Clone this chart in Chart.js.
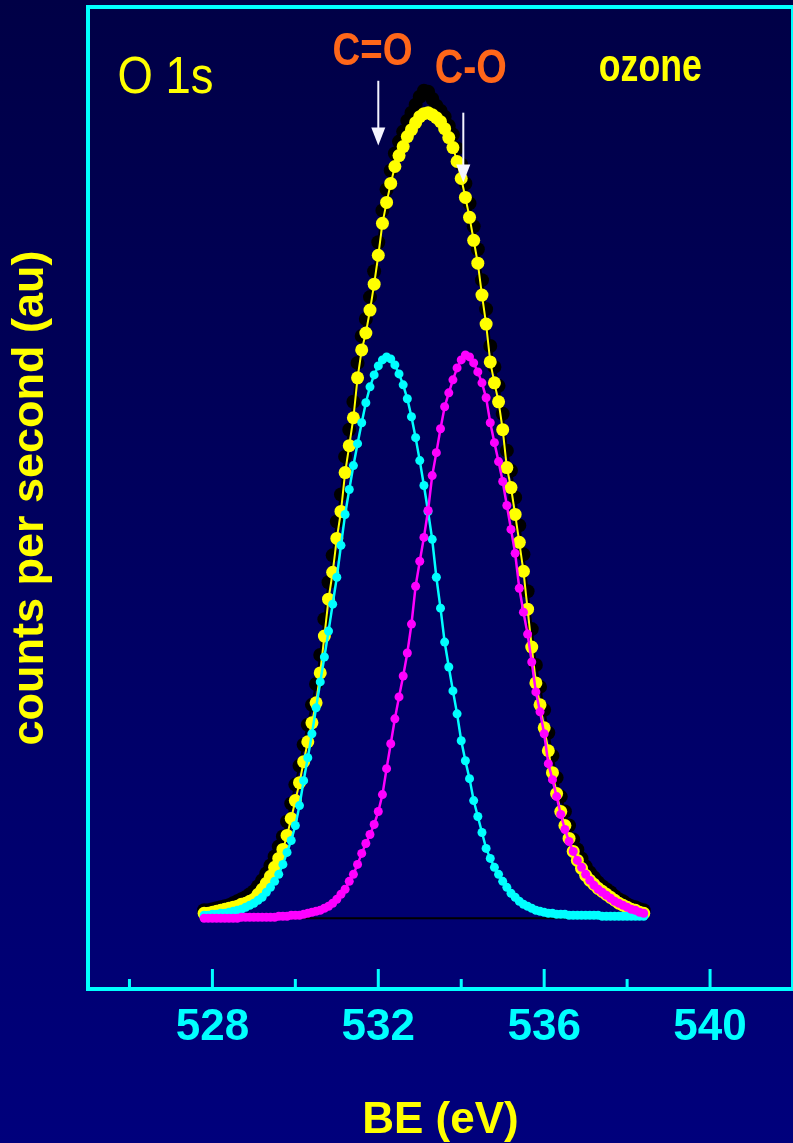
<!DOCTYPE html>
<html>
<head>
<meta charset="utf-8">
<script src="https://cdn.jsdelivr.net/npm/chart.js@4/dist/chart.umd.min.js"></script>
<style>
  html, body { margin: 0; padding: 0; overflow: hidden; }
  body { width: 793px; height: 1143px; background: linear-gradient(to bottom, #000046 0%, #00007c 100%); }
  canvas { display: block; }
</style>
</head>
<body>
<canvas id="xpsChart" width="800" height="1143"></canvas>
<script>
// binding energy grid (eV)
const energies = [
  527.8, 527.9, 528.0, 528.1, 528.2, 528.3, 528.4, 528.5, 528.6, 528.7,
  528.8, 528.9, 529.0, 529.1, 529.2, 529.3, 529.4, 529.5, 529.6, 529.7,
  529.8, 529.9, 530.0, 530.1, 530.2, 530.3, 530.4, 530.5, 530.6, 530.7,
  530.8, 530.9, 531.0, 531.1, 531.2, 531.3, 531.4, 531.5, 531.6, 531.7,
  531.8, 531.9, 532.0, 532.1, 532.2, 532.3, 532.4, 532.5, 532.6, 532.7,
  532.8, 532.9, 533.0, 533.1, 533.2, 533.3, 533.4, 533.5, 533.6, 533.7,
  533.8, 533.9, 534.0, 534.1, 534.2, 534.3, 534.4, 534.5, 534.6, 534.7,
  534.8, 534.9, 535.0, 535.1, 535.2, 535.3, 535.4, 535.5, 535.6, 535.7,
  535.8, 535.9, 536.0, 536.1, 536.2, 536.3, 536.4, 536.5, 536.6, 536.7,
  536.8, 536.9, 537.0, 537.1, 537.2, 537.3, 537.4, 537.5, 537.6, 537.7,
  537.8, 537.9, 538.0, 538.1, 538.2, 538.3, 538.4
];

// measured O 1s counts (black)
const measured = [
  8, 8, 9, 10, 11, 12, 13, 15, 17, 19,
  21, 24, 27, 32, 38, 45, 53, 62, 72, 82,
  97, 115, 134, 153, 174, 194, 214, 235, 264, 300,
  337, 364, 398, 425, 463, 490, 518, 557, 584, 601,
  623, 649, 678, 710, 731, 750, 767, 779, 789, 800,
  808, 816, 824, 830, 829, 822, 815, 810, 804, 795,
  786, 772, 756, 737, 717, 694, 671, 640, 611, 574,
  553, 534, 506, 469, 449, 422, 394, 365, 328, 290,
  254, 232, 209, 186, 163, 141, 122, 107, 93, 79,
  69, 60, 52, 46, 41, 36, 32, 29, 26, 22,
  19, 17, 14, 12, 11, 9, 8
];

// total fit (yellow)
const fitTotal = [
  5, 5, 6, 7, 8, 9, 10, 11, 12, 14,
  15, 17, 19, 24, 29, 35, 42, 51, 60, 69,
  83, 100, 118, 136, 157, 177, 196, 216, 246, 283,
  320, 347, 381, 408, 447, 474, 502, 542, 570, 587,
  610, 636, 665, 697, 718, 737, 754, 765, 774, 784,
  791, 798, 804, 807, 808, 806, 803, 799, 792, 783,
  773, 759, 742, 723, 703, 680, 657, 625, 596, 558,
  537, 518, 490, 452, 432, 405, 377, 348, 310, 272,
  236, 214, 191, 168, 146, 125, 107, 93, 80, 67,
  58, 50, 43, 38, 34, 30, 27, 24, 21, 18,
  15, 13, 11, 9, 8, 6, 5
];

// C=O component (cyan)
const peakCO2 = [
  3, 3, 4, 4, 5, 5, 6, 7, 8, 9,
  11, 13, 15, 18, 21, 26, 31, 37, 44, 54,
  66, 78, 93, 113, 138, 161, 185, 211, 237, 262,
  288, 315, 342, 374, 405, 430, 454, 476, 497, 517,
  533, 545, 554, 560, 563, 561, 555, 546, 535, 521,
  503, 482, 459, 434, 408, 380, 342, 311, 277, 252,
  228, 205, 178, 158, 140, 118, 102, 86, 70, 60,
  51, 44, 37, 31, 25, 21, 17, 14, 12, 10,
  8, 7, 6, 5, 5, 4, 4, 4, 3, 3,
  3, 3, 3, 3, 3, 3, 2, 2, 2, 2,
  2, 2, 2, 2, 2, 2, 2
];

// C-O component (magenta)
const peakCO = [
  0, 0, 0, 0, 0, 0, 0, 0, 0, 1,
  1, 1, 1, 1, 1, 1, 1, 1, 2, 2,
  2, 3, 3, 3, 4, 5, 6, 7, 8, 10,
  12, 15, 19, 24, 29, 37, 44, 54, 65, 75,
  84, 94, 107, 124, 150, 175, 200, 222, 243, 266,
  295, 333, 358, 382, 409, 444, 467, 491, 513, 527,
  540, 552, 560, 565, 563, 557, 548, 537, 522, 497,
  477, 458, 438, 414, 390, 366, 331, 307, 285, 257,
  227, 207, 185, 155, 139, 122, 104, 89, 77, 67,
  58, 51, 44, 38, 33, 29, 26, 23, 20, 17,
  15, 13, 11, 9, 8, 6, 5
];

const baselineLevel = 0;
const tickLabels = [528, 532, 536, 540];
const minorTicks = [526, 530, 534, 538];

const cyan = '#00ffff';
const yellow = '#ffff00';
const orange = '#ff6619';
const family = "'Liberation Sans', Arial, sans-serif";

function toPoints(values) {
  return energies.map((e, i) => ({ x: e, y: values[i] }));
}

// frame and inward tick marks
const framePlugin = {
  id: 'framePlugin',
  beforeDatasetsDraw(chart) {
    const { ctx, chartArea: a, scales: { x } } = chart;
    ctx.save();
    ctx.strokeStyle = cyan;
    ctx.lineWidth = 4;
    ctx.strokeRect(a.left, a.top, a.right - a.left, a.bottom - a.top);
    ctx.lineWidth = 3;
    ctx.beginPath();
    tickLabels.forEach(v => {
      const px = x.getPixelForValue(v);
      ctx.moveTo(px, a.bottom);
      ctx.lineTo(px, a.bottom - 20);
    });
    minorTicks.forEach(v => {
      const px = x.getPixelForValue(v);
      ctx.moveTo(px, a.bottom);
      ctx.lineTo(px, a.bottom - 10);
    });
    ctx.stroke();
    ctx.restore();
  }
};

// labels and arrows
const notesPlugin = {
  id: 'notesPlugin',
  afterDatasetsDraw(chart) {
    const { ctx, scales: { x, y } } = chart;

    function label(text, ev, val, font, color, width) {
      ctx.save();
      ctx.font = font;
      ctx.fillStyle = color;
      ctx.textAlign = 'center';
      ctx.textBaseline = 'alphabetic';
      const w = ctx.measureText(text).width;
      ctx.translate(x.getPixelForValue(ev), y.getPixelForValue(val));
      ctx.scale(width / w, 1);
      ctx.fillText(text, 0, 0);
      ctx.restore();
    }

    function arrow(ev, fromVal, toVal) {
      const px = x.getPixelForValue(ev);
      const y0 = y.getPixelForValue(fromVal);
      const y1 = y.getPixelForValue(toVal);
      ctx.save();
      ctx.strokeStyle = '#f4f4ff';
      ctx.fillStyle = '#f4f4ff';
      ctx.lineWidth = 2;
      ctx.beginPath();
      ctx.moveTo(px, y0);
      ctx.lineTo(px, y1 - 14);
      ctx.stroke();
      ctx.beginPath();
      ctx.moveTo(px - 7, y1 - 18);
      ctx.lineTo(px + 7, y1 - 18);
      ctx.lineTo(px, y1);
      ctx.closePath();
      ctx.fill();
      ctx.restore();
    }

    label('O 1s', 526.87, 828, "52px " + family, yellow, 96);
    label('C=O', 531.86, 856, "bold 46px " + family, orange, 80);
    label('C-O', 534.23, 838, "bold 48px " + family, orange, 72);
    label('ozone', 538.56, 840, "bold 46px " + family, yellow, 103);
    arrow(532.0, 840, 775);
    arrow(534.05, 808, 738);
  }
};

const ctx = document.getElementById('xpsChart').getContext('2d');

new Chart(ctx, {
  type: 'line',
  data: {
    datasets: [{
      label: 'C-O',
      data: toPoints(peakCO),
      borderColor: '#ff00ff',
      backgroundColor: '#ff00ff',
      borderWidth: 2.5,
      pointRadius: 4.5,
      pointBorderWidth: 0,
      fill: false
    }, {
      label: 'C=O',
      data: toPoints(peakCO2),
      borderColor: cyan,
      backgroundColor: cyan,
      borderWidth: 2.5,
      pointRadius: 4.5,
      pointBorderWidth: 0,
      fill: false
    }, {
      label: 'fit',
      data: toPoints(fitTotal),
      borderColor: yellow,
      backgroundColor: yellow,
      borderWidth: 2,
      pointRadius: 6.5,
      pointBorderWidth: 0,
      fill: false
    }, {
      label: 'data',
      data: toPoints(measured),
      borderColor: '#000000',
      backgroundColor: '#000000',
      borderWidth: 2,
      pointRadius: 7,
      pointBorderWidth: 0,
      fill: false
    }, {
      label: 'background',
      data: [
        { x: energies[0], y: baselineLevel },
        { x: energies[energies.length - 1], y: baselineLevel }
      ],
      borderColor: '#000000',
      borderWidth: 2,
      pointRadius: 0,
      fill: false
    }]
  },
  options: {
    responsive: false,
    animation: false,
    devicePixelRatio: 1,
    layout: { padding: { top: 4, right: 4, left: 0, bottom: 0 } },
    plugins: {
      legend: { display: false },
      tooltip: { enabled: false }
    },
    scales: {
      x: {
        type: 'linear',
        min: 525,
        max: 542,
        afterFit: scale => { scale.height = 154; },
        afterBuildTicks: scale => { scale.ticks = tickLabels.map(v => ({ value: v })); },
        grid: { display: false, drawTicks: false },
        border: { display: false },
        ticks: {
          color: cyan,
          padding: 12,
          autoSkip: false,
          maxRotation: 0,
          font: { family: family, size: 44, weight: 'bold' }
        },
        title: {
          display: true,
          text: 'BE (eV)',
          color: yellow,
          padding: { top: 0, bottom: -4 },
          font: { family: family, size: 44, weight: 'bold' }
        }
      },
      y: {
        min: -71,
        max: 914,
        afterFit: scale => { scale.width = 88; },
        ticks: { display: false },
        grid: { display: false, drawTicks: false },
        border: { display: false },
        title: {
          display: true,
          text: 'counts per second (au)',
          color: yellow,
          padding: { top: 4, bottom: 0 },
          font: { family: family, size: 45, weight: 'bold' }
        }
      }
    }
  },
  plugins: [framePlugin, notesPlugin]
});
</script>
</body>
</html>
